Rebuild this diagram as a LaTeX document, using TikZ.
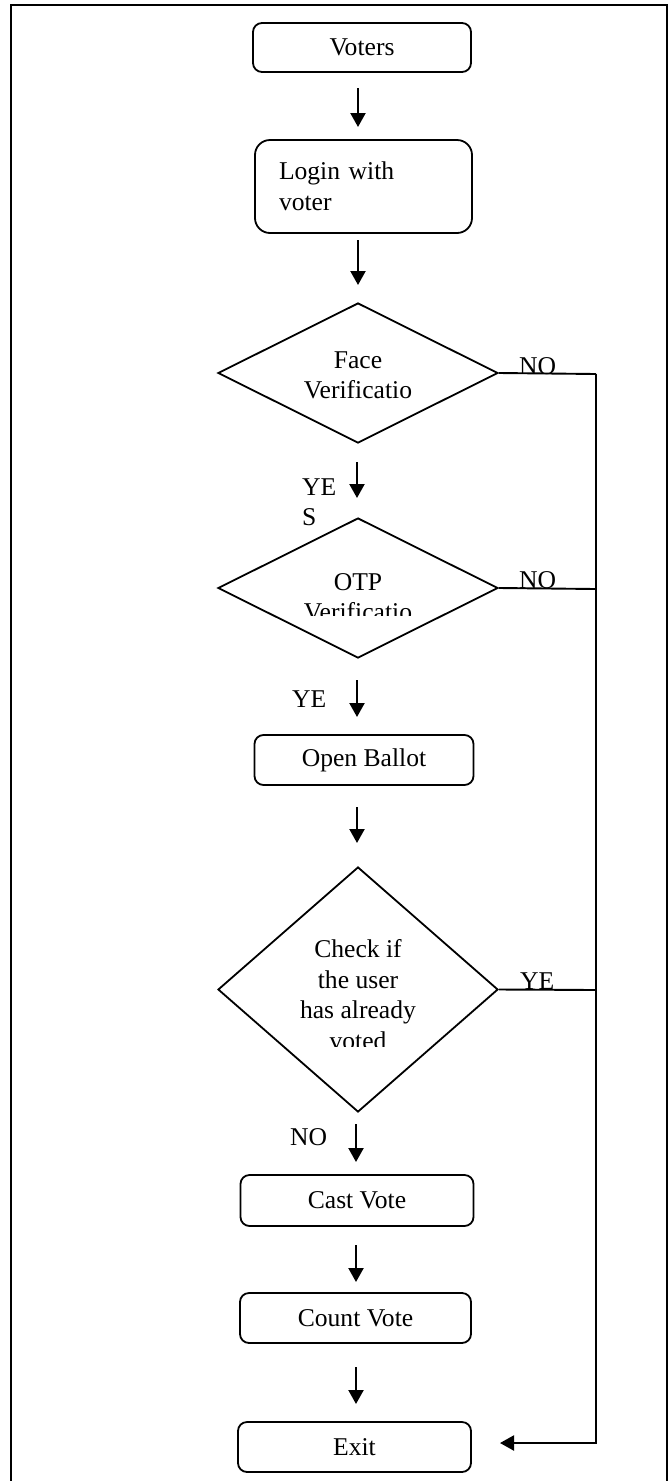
\documentclass[tikz,border=0pt]{standalone}
\usepackage{fontspec}
\setmainfont{Liberation Serif}
\usetikzlibrary{shapes.geometric,arrows.meta}
\tikzset{
 txt/.style={font=\fontsize{25.6}{30.7}\selectfont, inner sep=0pt},
 proc/.style={draw, line width=1.8pt, rounded corners=9pt, inner sep=0pt, txt},
 dia/.style={draw, diamond, line width=1.8pt, inner sep=0pt},
 arr/.style={line width=2.2pt, -{Triangle[length=14pt,width=15pt]}},
 wire/.style={line width=1.9pt},
 lbl/.style={txt, anchor=base west},
 dtxt/.style={txt, anchor=base},
 frame/.style={line width=2.6pt}
}
\begin{document}
\begin{tikzpicture}[x=1pt,y=-1pt]
\useasboundingbox (0,0) rectangle (672,1481);
\draw[frame] (11,1481) -- (11,5) -- (667,5) -- (667,1481);

% process boxes
\node[proc, minimum width=218pt, minimum height=49pt] (voters) at (362,47.5) {Voters};
\node[proc, rounded corners=15pt, minimum height=93pt, text width=169pt, inner xsep=24pt, align=left] (login) at (363.5,186.5) {Login with\\voter};
\node[proc, minimum width=219pt, minimum height=50pt] (ballot) at (364,760) {Open Ballot};
\node[proc, minimum width=233pt, minimum height=51pt] (cast) at (357,1200.5) {Cast Vote};
\node[proc, minimum width=231pt, minimum height=50pt] (count) at (355.5,1318) {Count Vote};
\node[proc, minimum width=233pt, minimum height=50pt] (exit) at (354.5,1447) {Exit};

% decisions
\node[dia, minimum width=280pt, minimum height=140pt] (face) at (358,373) {};
\node[dtxt] (facet1) at (358,368) {Face};
\node[dtxt] (facet2) at (358,398) {Verificatio};

\node[dia, minimum width=280pt, minimum height=140pt] (otp) at (358,588) {};
\node[dtxt] (otpt1) at (358,590) {OTP};
\begin{scope}
\clip (218,518) rectangle (498,615);
\node[dtxt] (otpt2) at (358,620) {Verificatio};
\end{scope}

\node[dia, minimum width=280pt, minimum height=245pt] (check) at (358,989.5) {};
\node[dtxt] (chk1) at (358,957) {Check if};
\node[dtxt] (chk2) at (358,988) {the user};
\node[dtxt] (chk3) at (358,1018) {has already};
\begin{scope}
\clip (218,867) rectangle (498,1046);
\node[dtxt] (chk4) at (358,1049) {voted};
\end{scope}

% vertical arrows
\coordinate (a1s) at (358,88);   \coordinate (a1e) at (358,127);
\coordinate (a2s) at (358,240);  \coordinate (a2e) at (358,285);
\coordinate (a3s) at (357,462);  \coordinate (a3e) at (357,498);
\coordinate (a4s) at (357,680);  \coordinate (a4e) at (357,717);
\coordinate (a5s) at (357,807);  \coordinate (a5e) at (357,843);
\coordinate (a6s) at (356,1124); \coordinate (a6e) at (356,1162);
\coordinate (a7s) at (356,1245); \coordinate (a7e) at (356,1282);
\coordinate (a8s) at (356,1367); \coordinate (a8e) at (356,1404);
\foreach \i in {1,...,8} \draw[arr] (a\i s) -- (a\i e);

% right-hand return line
\coordinate (r1) at (596,374);
\coordinate (r2) at (596,589);
\coordinate (r3) at (596,990);
\coordinate (rb) at (596,1443);
\coordinate (xt) at (500,1443);
\draw[wire] (face.east) -- (r1);
\draw[arr] (r1) -- (rb) -- (xt);
\draw[wire] (otp.east) -- (r2);
\draw[wire] (check.east) -- (r3);

% labels
\node[lbl] (no1) at (519,374) {NO};
\node[lbl] (no2) at (519,588) {NO};
\node[lbl] (ye3) at (520,989) {YE};
\node[lbl] (ye1) at (302,495) {YE};
\node[lbl] (s1) at (302,525) {S};
\node[lbl] (ye2) at (292,707) {YE};
\node[lbl] (no3) at (290,1145) {NO};
\end{tikzpicture}
\end{document}
